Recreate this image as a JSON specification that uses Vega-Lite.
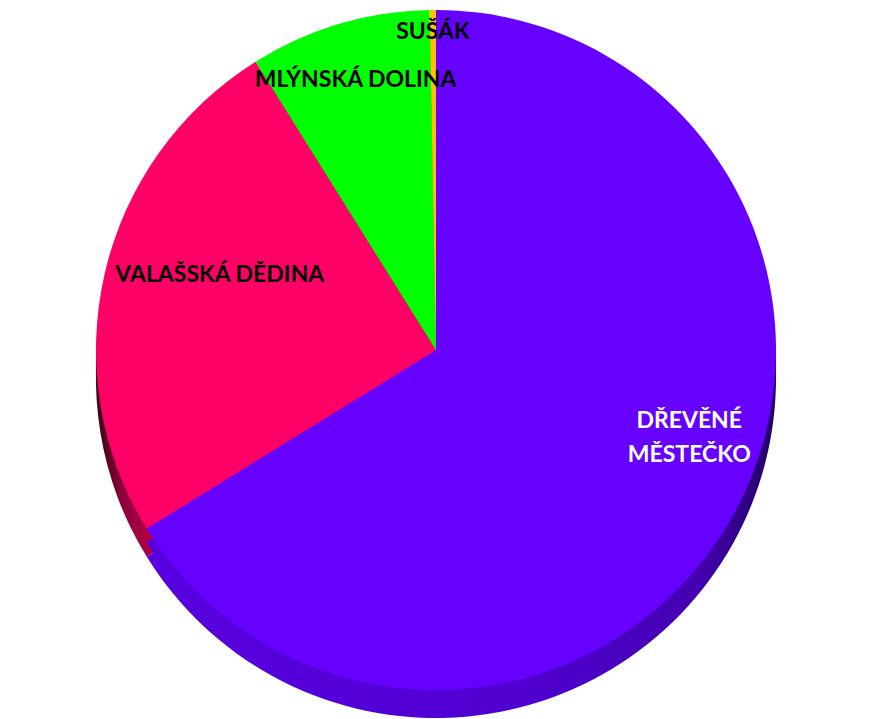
{
  "$schema": "https://vega.github.io/schema/vega-lite/v6.json",
  "width": 872,
  "height": 700,
  "autosize": "none",
  "padding": {"left": 0, "top": 0, "right": 0, "bottom": 19},
  "background": "white",
  "view": {"stroke": null},
  "config": {"text": {"font": "Lato", "fontWeight": "bold", "fontSize": 23}},
  "data": {
    "values": [
      {"misto": "DŘEVĚNÉ MĚSTEČKO", "podil": 66.2},
      {"misto": "VALAŠSKÁ DĚDINA", "podil": 24.9},
      {"misto": "MLÝNSKÁ DOLINA", "podil": 8.6},
      {"misto": "SUŠÁK", "podil": 0.3}
    ]
  },
  "encoding": {
    "theta": {"field": "podil", "type": "quantitative", "stack": true},
    "order": {"field": "podil", "type": "quantitative", "sort": "descending"}
  },
  "layer": [
    {
      "mark": {"type": "arc", "radius": 340, "yOffset": 28, "stroke": null},
      "encoding": {
        "fill": {
          "condition": [
            {"test": "datum.misto === 'DŘEVĚNÉ MĚSTEČKO'", "value": {"gradient": "linear", "x1": 0, "x2": 1, "y1": 0, "y2": 0, "stops": [{"offset": 0, "color": "#5800e0"}, {"offset": 0.6, "color": "#5000d0"}, {"offset": 0.88, "color": "#4400b0"}, {"offset": 1, "color": "#220066"}]}},
            {"test": "datum.misto === 'VALAŠSKÁ DĚDINA'", "value": {"gradient": "linear", "x1": 0, "x2": 1, "y1": 0, "y2": 0, "stops": [{"offset": 0, "color": "#3a0012"}, {"offset": 0.08, "color": "#90003a"}, {"offset": 0.2, "color": "#c0004c"}, {"offset": 1, "color": "#c0004c"}]}}
          ],
          "value": "#00b000"
        }
      }
    },
    {
      "mark": {"type": "arc", "radius": 340, "yOffset": 14, "stroke": null},
      "encoding": {
        "fill": {
          "condition": [
            {"test": "datum.misto === 'DŘEVĚNÉ MĚSTEČKO'", "value": {"gradient": "linear", "x1": 0, "x2": 1, "y1": 0, "y2": 0, "stops": [{"offset": 0, "color": "#5800e0"}, {"offset": 0.6, "color": "#5000d0"}, {"offset": 0.88, "color": "#4400b0"}, {"offset": 1, "color": "#220066"}]}},
            {"test": "datum.misto === 'VALAŠSKÁ DĚDINA'", "value": {"gradient": "linear", "x1": 0, "x2": 1, "y1": 0, "y2": 0, "stops": [{"offset": 0, "color": "#3a0012"}, {"offset": 0.08, "color": "#90003a"}, {"offset": 0.2, "color": "#c0004c"}, {"offset": 1, "color": "#c0004c"}]}}
          ],
          "value": "#00b000"
        }
      }
    },
    {
      "mark": {"type": "arc", "radius": 340, "stroke": null},
      "encoding": {
        "color": {
          "field": "misto",
          "type": "nominal",
          "legend": null,
          "scale": {
            "domain": ["DŘEVĚNÉ MĚSTEČKO", "VALAŠSKÁ DĚDINA", "MLÝNSKÁ DOLINA", "SUŠÁK"],
            "range": ["#6600ff", "#ff0066", "#00ff00", "#ffc000"]
          }
        }
      }
    },
    {
      "mark": {"type": "text", "radius": 318, "align": "center", "baseline": "middle", "color": "#000000"},
      "encoding": {
        "text": {"condition": {"test": "datum.misto === 'SUŠÁK'", "field": "misto"}, "value": ""}
      }
    },
    {
      "mark": {"type": "text", "radius": 282, "align": "center", "baseline": "middle", "color": "#000000"},
      "encoding": {
        "text": {"condition": {"test": "datum.misto === 'MLÝNSKÁ DOLINA'", "field": "misto"}, "value": ""}
      }
    },
    {
      "mark": {"type": "text", "radius": 222, "dy": -25, "align": "center", "baseline": "middle", "color": "#000000"},
      "encoding": {
        "text": {"condition": {"test": "datum.misto === 'VALAŠSKÁ DĚDINA'", "field": "misto"}, "value": ""}
      }
    },
    {
      "mark": {"type": "text", "radius": 290, "dy": -70, "align": "center", "baseline": "middle", "color": "#ffffff", "lineBreak": " ", "lineHeight": 34},
      "encoding": {
        "text": {"condition": {"test": "datum.misto === 'DŘEVĚNÉ MĚSTEČKO'", "field": "misto"}, "value": ""}
      }
    }
  ]
}
